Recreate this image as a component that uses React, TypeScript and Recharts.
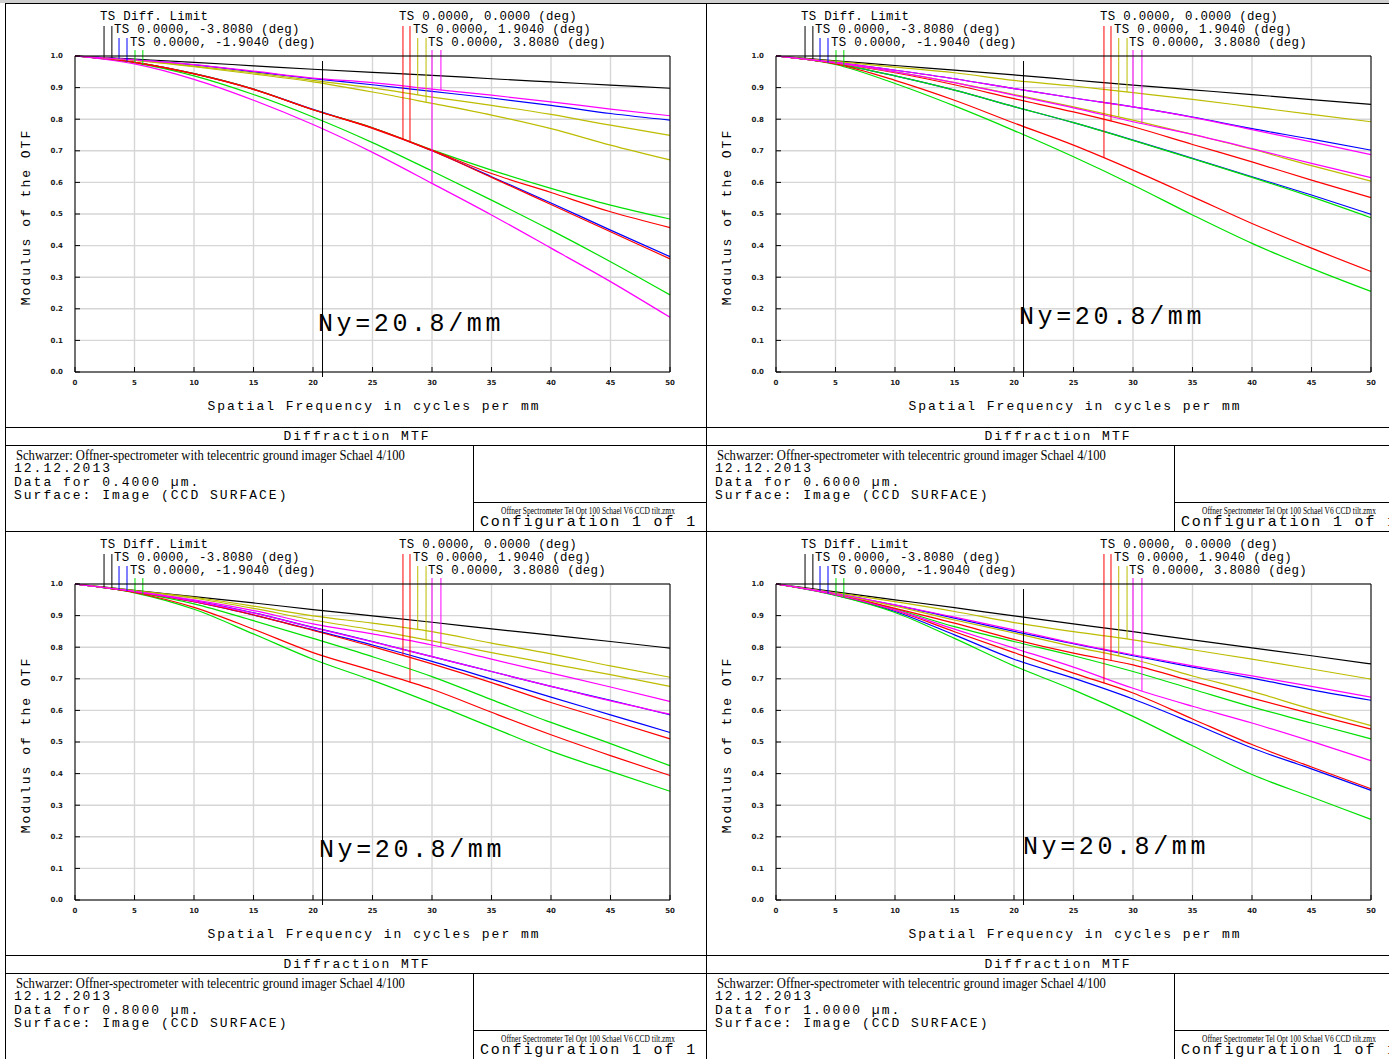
import React from 'react';
import { CartesianGrid, Line, LineChart, ReferenceLine, XAxis, YAxis } from 'recharts';

// spatial frequency samples (cycles/mm)
const FREQ = [0, 5, 10, 15, 20, 25, 30, 35, 40, 45, 50];
const X_TICKS = [0, 5, 10, 15, 20, 25, 30, 35, 40, 45, 50];
const Y_TICKS = [0, 0.1, 0.2, 0.3, 0.4, 0.5, 0.6, 0.7, 0.8, 0.9, 1];
const NYQUIST = 20.8;

const LEGEND_LEFT = ['TS Diff. Limit', 'TS 0.0000, -3.8080 (deg)', 'TS 0.0000, -1.9040 (deg)'];
const LEGEND_RIGHT = ['TS 0.0000, 0.0000 (deg)', 'TS 0.0000, 1.9040 (deg)', 'TS 0.0000, 3.8080 (deg)'];
const WAVELENGTHS = ['0.4000', '0.6000', '0.8000', '1.0000'];

// 0.4 um
const W04_DIFF = [1, 0.99, 0.98, 0.969, 0.958, 0.948, 0.939, 0.928, 0.918, 0.908, 0.898];
const W04_BLUE_T = [1, 0.988, 0.972, 0.95, 0.928, 0.909, 0.888, 0.867, 0.844, 0.818, 0.797];
const W04_BLUE_S = [1, 0.98, 0.944, 0.895, 0.831, 0.772, 0.7, 0.618, 0.535, 0.449, 0.365];
const W04_GREEN_T = [1, 0.98, 0.944, 0.895, 0.83, 0.773, 0.703, 0.639, 0.581, 0.528, 0.484];
const W04_GREEN_S = [1, 0.978, 0.937, 0.878, 0.807, 0.726, 0.636, 0.544, 0.449, 0.349, 0.244];
const W04_RED_T = [1, 0.98, 0.944, 0.895, 0.83, 0.773, 0.702, 0.628, 0.568, 0.507, 0.457];
const W04_RED_S = [1, 0.98, 0.943, 0.894, 0.83, 0.771, 0.7, 0.616, 0.53, 0.444, 0.358];
const W04_YELLOW_T = [1, 0.987, 0.968, 0.947, 0.923, 0.899, 0.87, 0.844, 0.815, 0.781, 0.749];
const W04_YELLOW_S = [1, 0.986, 0.966, 0.943, 0.918, 0.886, 0.85, 0.813, 0.77, 0.718, 0.671];
const W04_MAGENTA_T = [1, 0.975, 0.926, 0.86, 0.783, 0.695, 0.597, 0.497, 0.392, 0.286, 0.173];
const W04_MAGENTA_S = [1, 0.988, 0.973, 0.952, 0.93, 0.916, 0.895, 0.876, 0.855, 0.832, 0.811];

// 0.6 um
const W06_DIFF = [1, 0.985, 0.97, 0.955, 0.94, 0.924, 0.908, 0.893, 0.878, 0.862, 0.847];
const W06_BLUE_T = [1, 0.98, 0.955, 0.928, 0.897, 0.867, 0.839, 0.807, 0.77, 0.737, 0.702];
const W06_BLUE_S = [1, 0.976, 0.937, 0.892, 0.84, 0.789, 0.734, 0.676, 0.618, 0.56, 0.499];
const W06_GREEN_T = [1, 0.976, 0.937, 0.892, 0.84, 0.789, 0.733, 0.675, 0.616, 0.554, 0.488];
const W06_GREEN_S = [1, 0.973, 0.913, 0.842, 0.764, 0.681, 0.592, 0.497, 0.407, 0.328, 0.255];
const W06_RED_T = [1, 0.975, 0.923, 0.86, 0.788, 0.718, 0.639, 0.555, 0.47, 0.392, 0.318];
const W06_RED_S = [1, 0.977, 0.947, 0.909, 0.865, 0.823, 0.776, 0.72, 0.665, 0.607, 0.552];
const W06_YELLOW_T = [1, 0.978, 0.95, 0.916, 0.878, 0.839, 0.797, 0.752, 0.705, 0.653, 0.604];
const W06_YELLOW_S = [1, 0.983, 0.965, 0.947, 0.923, 0.905, 0.884, 0.863, 0.839, 0.815, 0.792];
const W06_MAGENTA_T = [1, 0.98, 0.955, 0.928, 0.897, 0.867, 0.839, 0.806, 0.767, 0.728, 0.688];
const W06_MAGENTA_S = [1, 0.978, 0.95, 0.916, 0.876, 0.836, 0.792, 0.752, 0.707, 0.66, 0.615];

// 0.8 um
const W08_DIFF = [1, 0.98, 0.96, 0.94, 0.919, 0.899, 0.879, 0.858, 0.838, 0.818, 0.797];
const W08_BLUE_T = [1, 0.976, 0.947, 0.909, 0.863, 0.818, 0.77, 0.723, 0.676, 0.632, 0.586];
const W08_BLUE_S = [1, 0.975, 0.944, 0.902, 0.855, 0.807, 0.755, 0.699, 0.642, 0.586, 0.53];
const W08_GREEN_T = [1, 0.974, 0.937, 0.884, 0.828, 0.77, 0.707, 0.634, 0.562, 0.495, 0.425];
const W08_GREEN_S = [1, 0.972, 0.92, 0.842, 0.762, 0.695, 0.623, 0.547, 0.471, 0.407, 0.344];
const W08_RED_T = [1, 0.975, 0.944, 0.902, 0.853, 0.802, 0.747, 0.688, 0.625, 0.568, 0.51];
const W08_RED_S = [1, 0.973, 0.926, 0.857, 0.783, 0.726, 0.667, 0.594, 0.523, 0.457, 0.394];
const W08_YELLOW_T = [1, 0.979, 0.958, 0.93, 0.899, 0.876, 0.849, 0.813, 0.779, 0.741, 0.705];
const W08_YELLOW_S = [1, 0.978, 0.955, 0.923, 0.886, 0.855, 0.82, 0.783, 0.747, 0.713, 0.676];
const W08_MAGENTA_T = [1, 0.976, 0.946, 0.908, 0.862, 0.817, 0.77, 0.723, 0.676, 0.63, 0.588];
const W08_MAGENTA_S = [1, 0.977, 0.95, 0.916, 0.874, 0.842, 0.807, 0.762, 0.718, 0.674, 0.628];

// 1.0 um
const W10_DIFF = [1, 0.975, 0.95, 0.925, 0.899, 0.874, 0.849, 0.823, 0.798, 0.773, 0.747];
const W10_BLUE_T = [1, 0.97, 0.933, 0.892, 0.85, 0.811, 0.773, 0.737, 0.702, 0.665, 0.632];
const W10_BLUE_S = [1, 0.965, 0.913, 0.839, 0.762, 0.702, 0.636, 0.56, 0.481, 0.415, 0.347];
const W10_GREEN_T = [1, 0.967, 0.921, 0.865, 0.818, 0.773, 0.723, 0.667, 0.611, 0.56, 0.51];
const W10_GREEN_S = [1, 0.964, 0.91, 0.828, 0.741, 0.665, 0.581, 0.488, 0.397, 0.326, 0.255];
const W10_RED_T = [1, 0.966, 0.917, 0.849, 0.783, 0.718, 0.655, 0.573, 0.492, 0.421, 0.352];
const W10_RED_S = [1, 0.968, 0.923, 0.876, 0.825, 0.781, 0.744, 0.692, 0.639, 0.589, 0.541];
const W10_YELLOW_T = [1, 0.969, 0.93, 0.886, 0.845, 0.802, 0.762, 0.709, 0.66, 0.604, 0.552];
const W10_YELLOW_S = [1, 0.972, 0.944, 0.913, 0.878, 0.849, 0.823, 0.792, 0.762, 0.731, 0.699];
const W10_MAGENTA_T = [1, 0.97, 0.934, 0.895, 0.855, 0.813, 0.776, 0.741, 0.709, 0.676, 0.642];
const W10_MAGENTA_S = [1, 0.966, 0.918, 0.857, 0.797, 0.737, 0.67, 0.613, 0.56, 0.502, 0.441];

const BLUE = '#0000ff';
const GREEN = '#00e000';
const RED = '#ff0000';
const YELLOW = '#bcbc00';
const MAGENTA = '#ff00ff';

const SERIES = [
  { key: 'diff', color: '#000000' },
  { key: 'blueT', color: BLUE },
  { key: 'blueS', color: BLUE },
  { key: 'greenT', color: GREEN },
  { key: 'greenS', color: GREEN },
  { key: 'redT', color: RED },
  { key: 'redS', color: RED },
  { key: 'yellowT', color: YELLOW },
  { key: 'yellowS', color: YELLOW },
  { key: 'magentaT', color: MAGENTA },
  { key: 'magentaS', color: MAGENTA },
];

// leader lines hanging from the legend labels down to the curves
const LEADERS = [
  { key: 'diff', x: 2.44, color: '#000000', top: 22 },
  { key: 'diff', x: 3.1, color: '#000000', top: 22 },
  { key: 'blueT', x: 3.7, color: BLUE, top: 34 },
  { key: 'blueS', x: 4.37, color: BLUE, top: 34 },
  { key: 'greenT', x: 5.04, color: GREEN, top: 46 },
  { key: 'greenS', x: 5.7, color: GREEN, top: 46 },
  { key: 'redT', x: 27.56, color: RED, top: 22 },
  { key: 'redS', x: 28.15, color: RED, top: 22 },
  { key: 'yellowT', x: 28.8, color: YELLOW, top: 34 },
  { key: 'yellowS', x: 29.5, color: YELLOW, top: 34 },
  { key: 'magentaT', x: 30.0, color: MAGENTA, top: 46 },
  { key: 'magentaS', x: 30.75, color: MAGENTA, top: 46 },
];

const PANELS = [
  {
    left: 5, top: 3, wl: WAVELENGTHS[0], ny: { left: 312, top: 320 },
    data: { diff: W04_DIFF, blueT: W04_BLUE_T, blueS: W04_BLUE_S, greenT: W04_GREEN_T, greenS: W04_GREEN_S, redT: W04_RED_T, redS: W04_RED_S, yellowT: W04_YELLOW_T, yellowS: W04_YELLOW_S, magentaT: W04_MAGENTA_T, magentaS: W04_MAGENTA_S },
  },
  {
    left: 706, top: 3, wl: WAVELENGTHS[1], ny: { left: 312, top: 313 },
    data: { diff: W06_DIFF, blueT: W06_BLUE_T, blueS: W06_BLUE_S, greenT: W06_GREEN_T, greenS: W06_GREEN_S, redT: W06_RED_T, redS: W06_RED_S, yellowT: W06_YELLOW_T, yellowS: W06_YELLOW_S, magentaT: W06_MAGENTA_T, magentaS: W06_MAGENTA_S },
  },
  {
    left: 5, top: 531, wl: WAVELENGTHS[2], ny: { left: 313, top: 318 },
    data: { diff: W08_DIFF, blueT: W08_BLUE_T, blueS: W08_BLUE_S, greenT: W08_GREEN_T, greenS: W08_GREEN_S, redT: W08_RED_T, redS: W08_RED_S, yellowT: W08_YELLOW_T, yellowS: W08_YELLOW_S, magentaT: W08_MAGENTA_T, magentaS: W08_MAGENTA_S },
  },
  {
    left: 706, top: 531, wl: WAVELENGTHS[3], ny: { left: 316, top: 315 },
    data: { diff: W10_DIFF, blueT: W10_BLUE_T, blueS: W10_BLUE_S, greenT: W10_GREEN_T, greenS: W10_GREEN_S, redT: W10_RED_T, redS: W10_RED_S, yellowT: W10_YELLOW_T, yellowS: W10_YELLOW_S, magentaT: W10_MAGENTA_T, magentaS: W10_MAGENTA_S },
  },
];

const PLOT_TOP = 52;
const PLOT_H = 316;
const MONO = "'Liberation Mono', 'DejaVu Sans Mono', monospace";
const SERIF = "'Liberation Serif', 'DejaVu Serif', serif";

function valueAt(series: number[], x: number) {
  for (let i = 1; i < FREQ.length; i++) {
    if (x <= FREQ[i]) {
      const t = (x - FREQ[i - 1]) / (FREQ[i] - FREQ[i - 1]);
      return series[i - 1] + t * (series[i] - series[i - 1]);
    }
  }
  return series[series.length - 1];
}

function pxToValue(py: number) {
  return 1 + (PLOT_TOP - py) / PLOT_H;
}

function Txt({ left, cy, size, lh, center, style, children }: any) {
  const h = lh ?? size;
  return (
    <div
      style={{
        position: 'absolute', left, top: cy - h / 2, fontSize: size, lineHeight: `${h}px`, height: h,
        whiteSpace: 'nowrap', fontFamily: MONO, color: '#000',
        transform: center ? 'translateX(-50%)' : undefined, ...style,
      }}
    >
      {children}
    </div>
  );
}

function HLine({ left, top, width }: any) {
  return <div style={{ position: 'absolute', left, top, width, height: 1, background: '#000' }} />;
}

function VLine({ left, top, height }: any) {
  return <div style={{ position: 'absolute', left, top, width: 1, height, background: '#000' }} />;
}

function Panel({ cfg }: any) {
  const rows = FREQ.map((f, i) => {
    const r: any = { f };
    SERIES.forEach((s) => { r[s.key] = cfg.data[s.key][i]; });
    return r;
  });
  const spaced = { letterSpacing: 2 };
  const legend = { letterSpacing: 0.3 };
  return (
    <div
      style={{
        position: 'absolute', left: cfg.left, top: cfg.top, width: 702, height: 529,
        border: '1px solid #000', boxSizing: 'border-box', background: '#fff', overflow: 'hidden',
      }}
    >
      <div style={{ position: 'absolute', left: 0, top: 0 }}>
        <LineChart width={700} height={400} data={rows} margin={{ top: 51, right: 35, bottom: 12, left: 39 }}>
          <CartesianGrid xAxisId="b" yAxisId="l" stroke="#d6d6d6" strokeWidth={1.4} />
          <XAxis
            xAxisId="b" type="number" dataKey="f" domain={[0, 50]} ticks={X_TICKS} interval={0}
            height={20} tickSize={-5} tickMargin={13}
            axisLine={{ stroke: '#000' }} tickLine={{ stroke: '#000' }}
            tick={{ fontSize: 7, fontWeight: 700, fill: '#222', fontFamily: 'DejaVu Sans' }}
          />
          <XAxis
            xAxisId="t" orientation="top" type="number" dataKey="f" domain={[0, 50]} ticks={X_TICKS}
            interval={0} height={1} tickSize={-5} tick={false}
            axisLine={{ stroke: '#000' }} tickLine={{ stroke: '#000' }}
          />
          <YAxis
            yAxisId="l" type="number" domain={[0, 1]} ticks={Y_TICKS} interval={0} width={30}
            tickSize={-5} tickMargin={17} tickFormatter={(v: number) => v.toFixed(1)}
            axisLine={{ stroke: '#000' }} tickLine={{ stroke: '#000' }}
            tick={{ fontSize: 7, fontWeight: 700, fill: '#222', fontFamily: 'DejaVu Sans' }}
          />
          <YAxis
            yAxisId="r" orientation="right" type="number" domain={[0, 1]} ticks={Y_TICKS} interval={0}
            width={1} tickSize={-5} tick={false}
            axisLine={{ stroke: '#000' }} tickLine={{ stroke: '#000' }}
          />
          {SERIES.map((s) => (
            <Line
              key={s.key} xAxisId="b" yAxisId="l" type="monotone" dataKey={s.key} stroke={s.color}
              strokeWidth={1.2} dot={false} activeDot={false} isAnimationActive={false}
            />
          ))}
          <ReferenceLine
            xAxisId="b" yAxisId="l" ifOverflow="visible" stroke="#000" strokeWidth={1}
            segment={[{ x: NYQUIST, y: pxToValue(57) }, { x: NYQUIST, y: pxToValue(373) }]}
          />
          {LEADERS.map((l, i) => (
            <ReferenceLine
              key={i} xAxisId="b" yAxisId="l" ifOverflow="visible" stroke={l.color} strokeWidth={1}
              segment={[{ x: l.x, y: pxToValue(l.top) }, { x: l.x, y: valueAt(cfg.data[l.key], l.x) }]}
            />
          ))}
        </LineChart>
      </div>

      <Txt left={94} cy={13} size={12.4} lh={10} style={legend}>{LEGEND_LEFT[0]}</Txt>
      <Txt left={108} cy={25.5} size={12.4} lh={10} style={legend}>{LEGEND_LEFT[1]}</Txt>
      <Txt left={124} cy={38.5} size={12.4} lh={10} style={legend}>{LEGEND_LEFT[2]}</Txt>
      <Txt left={393} cy={13} size={12.4} lh={10} style={legend}>{LEGEND_RIGHT[0]}</Txt>
      <Txt left={407} cy={25.5} size={12.4} lh={10} style={legend}>{LEGEND_RIGHT[1]}</Txt>
      <Txt left={422} cy={38.5} size={12.4} lh={10} style={legend}>{LEGEND_RIGHT[2]}</Txt>

      <Txt left={cfg.ny.left} cy={cfg.ny.top} size={25} style={{ letterSpacing: 3.6 }}>Ny={NYQUIST}/mm</Txt>

      <div
        style={{
          position: 'absolute', left: 20, top: 213, fontSize: 13, lineHeight: '13px', fontFamily: MONO,
          whiteSpace: 'nowrap', letterSpacing: 2, transform: 'translate(-50%, -50%) rotate(-90deg)',
        }}
      >
        Modulus of the OTF
      </div>
      <Txt left={368} cy={402} size={13} center style={spaced}>Spatial Frequency in cycles per mm</Txt>

      <HLine left={0} top={423} width={700} />
      <Txt left={351} cy={432} size={13} center style={spaced}>Diffraction MTF</Txt>
      <HLine left={0} top={441} width={700} />
      <VLine left={467} top={441} height={90} />
      <HLine left={467} top={498} width={240} />

      <Txt left={10} cy={452} size={14} lh={10} style={{ fontFamily: SERIF, transform: 'scaleX(0.9)', transformOrigin: 'left' }}>
        Schwarzer: Offner-spectrometer with telecentric ground imager Schael 4/100
      </Txt>
      <Txt left={8} cy={464} size={13} lh={11} style={spaced}>12.12.2013</Txt>
      <Txt left={8} cy={478} size={13} lh={11} style={spaced}>Data for {cfg.wl} µm.</Txt>
      <Txt left={8} cy={491} size={13} lh={11} style={spaced}>Surface: Image (CCD SURFACE)</Txt>

      <Txt left={582} cy={506} size={11} lh={9} center style={{ fontFamily: SERIF, transform: 'translateX(-50%) scaleX(0.68)' }}>
        Offner Spectrometer Tel Opt 100 Schael V6 CCD tilt.zmx
      </Txt>
      <Txt left={474} cy={519} size={15} lh={12} style={{ letterSpacing: 1.85 }}>Configuration 1 of 1</Txt>
    </div>
  );
}

export default function App() {
  return (
    <div style={{ position: 'absolute', left: 0, top: 0, width: 1389, height: 1059, background: '#fff', overflow: 'hidden' }}>
      <div style={{ position: 'absolute', left: 0, top: 0, width: 1389, height: 3, background: '#cfcfcf' }} />
      {PANELS.map((p, i) => (
        <Panel key={i} cfg={p} />
      ))}
    </div>
  );
}
